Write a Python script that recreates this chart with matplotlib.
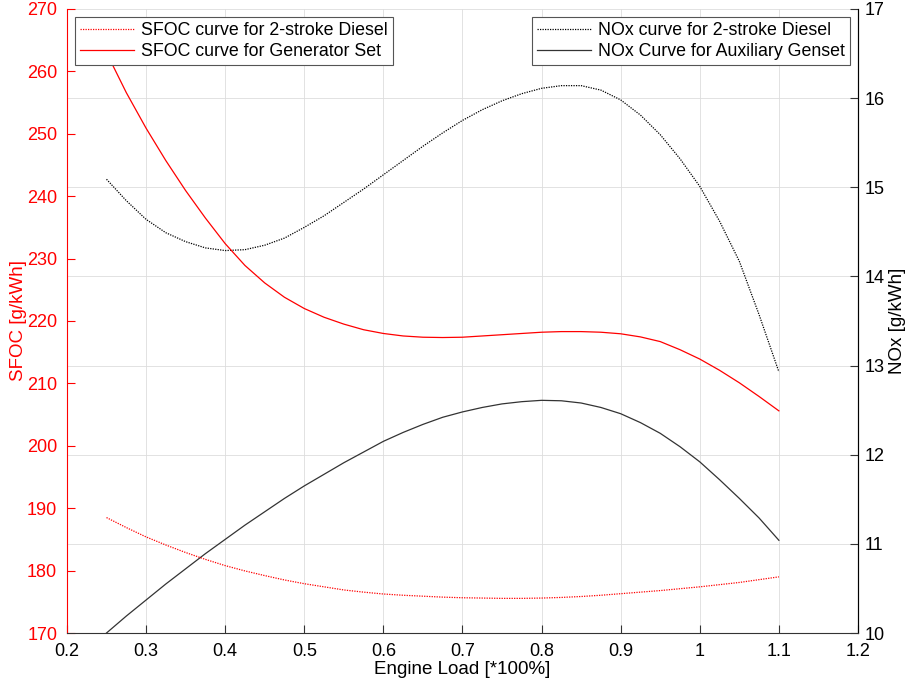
import matplotlib
matplotlib.use('Agg')
import matplotlib.pyplot as plt

plt.rcParams['font.family'] = ['Liberation Sans', 'DejaVu Sans']

# Engine load [*100%]
load = [0.25, 0.275, 0.3, 0.325, 0.35, 0.375, 0.4, 0.425, 0.45, 0.475,
        0.5, 0.525, 0.55, 0.575, 0.6, 0.625, 0.65, 0.675, 0.7, 0.725,
        0.75, 0.775, 0.8, 0.825, 0.85, 0.875, 0.9, 0.925, 0.95, 0.975,
        1.0, 1.025, 1.05, 1.075, 1.1]

# SFOC [g/kWh]
sfoc_2stroke = [188.5, 186.9, 185.4, 184.1, 182.9, 181.8, 180.8, 179.95, 179.2, 178.5,
                177.9, 177.4, 176.9, 176.55, 176.25, 176.05, 175.9, 175.75, 175.65, 175.6,
                175.55, 175.55, 175.6, 175.7, 175.85, 176.05, 176.3, 176.55, 176.8, 177.1,
                177.4, 177.75, 178.1, 178.55, 179.0]
sfoc_genset = [263.0, 256.6, 250.9, 245.7, 240.9, 236.5, 232.4, 228.9, 226.1, 223.8,
               222.0, 220.6, 219.5, 218.6, 218.0, 217.6, 217.4, 217.35, 217.4, 217.6,
               217.8, 218.0, 218.2, 218.3, 218.3, 218.2, 217.95, 217.45, 216.7, 215.4,
               213.9, 212.1, 210.1, 207.9, 205.6]

# NOx [g/kWh]
nox_2stroke = [15.09, 14.85, 14.64, 14.49, 14.39, 14.32, 14.29, 14.30, 14.35, 14.43,
               14.55, 14.68, 14.83, 14.98, 15.14, 15.30, 15.46, 15.61, 15.75, 15.87,
               15.97, 16.05, 16.11, 16.14, 16.14, 16.09, 15.98, 15.81, 15.59, 15.32,
               15.01, 14.62, 14.17, 13.57, 12.93]
nox_genset = [10.0, 10.19, 10.37, 10.55, 10.72, 10.89, 11.05, 11.21, 11.36, 11.51,
              11.65, 11.78, 11.91, 12.03, 12.15, 12.25, 12.34, 12.42, 12.48, 12.53,
              12.57, 12.595, 12.61, 12.605, 12.58, 12.53, 12.46, 12.36, 12.24, 12.09,
              11.92, 11.72, 11.51, 11.29, 11.04]

x_ticks = [0.2, 0.3, 0.4, 0.5, 0.6, 0.7, 0.8, 0.9, 1.0, 1.1, 1.2]
x_labels = ['0.2', '0.3', '0.4', '0.5', '0.6', '0.7', '0.8', '0.9', '1', '1.1', '1.2']
sfoc_ticks = [170, 180, 190, 200, 210, 220, 230, 240, 250, 260, 270]
nox_ticks = [10, 11, 12, 13, 14, 15, 16, 17]

fig = plt.figure(figsize=(9.11, 6.85), dpi=100)
ax = fig.add_axes([0.0735, 0.0759, 0.8683, 0.911])
ax2 = ax.twinx()

# right axis (with the grid) goes underneath, left axis with the red curves on top
ax.set_zorder(ax2.get_zorder() + 1)
ax.patch.set_visible(False)

dotted = (0, (1, 1))
l1, = ax.plot(load, sfoc_2stroke, color='red', linestyle=dotted, linewidth=0.9,
              label='SFOC curve for 2-stroke Diesel')
l2, = ax.plot(load, sfoc_genset, color='red', linewidth=0.9,
              label='SFOC curve for Generator Set')
l3, = ax2.plot(load, nox_2stroke, color='black', linestyle=dotted, linewidth=0.9,
               label='NOx curve for 2-stroke Diesel')
l4, = ax2.plot(load, nox_genset, color='#333333', linewidth=0.9,
               label='NOx Curve for Auxiliary Genset')

ax.set_xlim(0.2, 1.2)
ax.set_ylim(170, 270)
ax2.set_ylim(10, 17)
ax.set_xticks(x_ticks)
ax.set_xticklabels(x_labels)
ax.set_yticks(sfoc_ticks)
ax2.set_yticks(nox_ticks)

# grid follows the right axis, like the original
ax2.set_axisbelow(True)
ax2.yaxis.grid(True, color='#dddddd', linewidth=0.6)
for xt in x_ticks[1:-1]:
    ax2.axvline(xt, color='#dddddd', linewidth=0.6, zorder=0.5)

for a in (ax, ax2):
    a.spines['top'].set_visible(False)
ax.spines['left'].set_color('red')
ax.spines['bottom'].set_color('#333333')
ax2.spines['right'].set_color('#333333')
ax2.spines['left'].set_visible(False)
ax2.spines['bottom'].set_visible(False)

ax.tick_params(axis='y', colors='red', direction='in', labelsize=13, length=6, pad=7)
ax.tick_params(axis='x', colors='#333333', labelcolor='black', direction='in',
               labelsize=13, length=6, pad=7)
ax2.tick_params(axis='y', colors='#333333', labelcolor='black', direction='in',
                labelsize=13, length=6, pad=5)

ax.set_xlabel('Engine Load [*100%]', fontsize=13.5, labelpad=1)
ax.set_ylabel('SFOC [g/kWh]', color='red', fontsize=13.5, labelpad=0)
ax2.set_ylabel('NOx [g/kWh]', color='black', fontsize=13.5, rotation=90, labelpad=3)

leg1 = ax.legend(handles=[l1, l2], loc='upper left', fontsize=12.8, fancybox=False,
                 edgecolor='#555555', framealpha=1, handlelength=3.0, handletextpad=0.4,
                 labelspacing=0.2, borderaxespad=0.45, borderpad=0.3)
leg1.get_frame().set_linewidth(0.8)
leg2 = ax.legend(handles=[l3, l4], loc='upper right', fontsize=12.8, fancybox=False,
                 edgecolor='#555555', framealpha=1, handlelength=3.0, handletextpad=0.4,
                 labelspacing=0.2, borderaxespad=0.45, borderpad=0.3)
leg2.get_frame().set_linewidth(0.8)
ax.add_artist(leg1)

fig.savefig('out.png', dpi=100)
